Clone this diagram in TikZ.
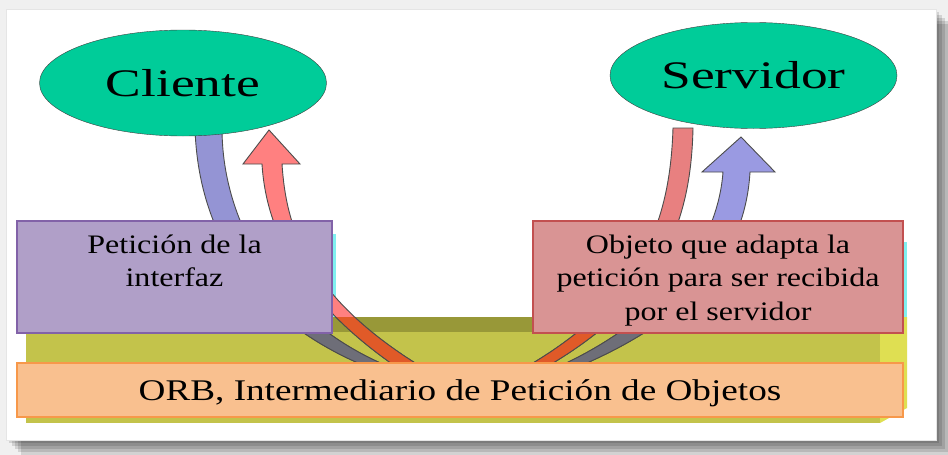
\documentclass[tikz,border=0pt]{standalone}
\usepackage{fontspec}
\setmainfont{Liberation Serif}[FakeStretch=1.2]
\newfontfamily\ellfont{Liberation Serif}[FakeStretch=1.37]
\newfontfamily\barfont{Liberation Serif}[FakeStretch=1.24]
\usetikzlibrary{shapes.geometric}
\definecolor{ellgreen}{HTML}{00CC99}
\definecolor{askblue}{HTML}{9494D4}
\definecolor{askred}{HTML}{FF8080}
\definecolor{srvred}{HTML}{E88080}
\definecolor{srvblue}{HTML}{9A9AE2}
\definecolor{bandgrey}{HTML}{6E6E78}
\definecolor{bandorange}{HTML}{E05A28}
\definecolor{boxlila}{HTML}{B09FC8}
\definecolor{lilaline}{HTML}{8262A8}
\definecolor{boxrosa}{HTML}{D99494}
\definecolor{rosaline}{HTML}{C25050}
\definecolor{orbfill}{HTML}{F9C08F}
\definecolor{orbline}{HTML}{F7984A}
\definecolor{slabfront}{HTML}{C3C34B}
\definecolor{slabtop}{HTML}{989838}
\definecolor{slabside}{HTML}{DFDF52}
\definecolor{cyanedge}{HTML}{80F0F0}
\begin{document}
\begin{tikzpicture}[x=1pt,y=-1pt,
	ell/.style={ellipse,draw=black!75,fill=ellgreen,inner sep=0pt,minimum width=287pt,minimum height=106pt,font=\ellfont\fontsize{39}{47}\selectfont},
	b/.style={draw,line width=1.6pt,inner sep=0pt,align=center,font=\fontsize{26.7}{33.5}\selectfont},
	band/.style={draw=black!70,line width=0.9pt,line join=miter}]
	\useasboundingbox (0,0) rectangle (948,455);
	% frame with its shadow
	\fill[black!6] (0,0) rectangle (948,455);
	\foreach \d in {3,6,9,12,15} \fill[black,opacity=0.12] (6+\d,9+\d) rectangle (936+\d,440+\d);
	\fill[white,draw=black!10] (6,9) rectangle (936,440);
	% olive slab
	\fill[slabfront] (26,332) rectangle (880,423);
	\fill[slabtop] (26,317) rectangle (880,332);
	\fill[slabside] (880,317) -- (907,317) -- (907,408) -- (880,423) -- cycle;
	\fill[cyanedge] (320,234) rectangle (336,317);
	\fill[cyanedge] (890,242) rectangle (907,317);
	% bands and arrows
	\coordinate (bt) at (269,130); \coordinate (dt) at (741,137);
	\newcommand{\bands}[4]{%
		\filldraw[band,fill=#1] (195,128) .. controls (198,230) and (250,320) .. (370,368) -- (385,365)
			.. controls (280,320) and (222,225) .. (222,128) -- cycle;
		\filldraw[band,fill=#2] (262,164) .. controls (266,230) and (300,300) .. (395,366) -- (420,366)
			.. controls (305,295) and (286,225) .. (282,164) -- (300,164) -- (bt) -- (243,164) -- cycle;
		\filldraw[band,fill=#3] (673,128) .. controls (670,225) and (640,300) .. (528,366) -- (548,366)
			.. controls (660,300) and (691,225) .. (693,128) -- cycle;
		\filldraw[band,fill=#4] (723,172) .. controls (718,240) and (670,315) .. (560,366) -- (580,366)
			.. controls (710,310) and (746,240) .. (750,172) -- (775,172) -- (dt) -- (702,172) -- cycle;}
	\bands{askblue}{askred}{srvred}{srvblue}
	\begin{scope}
		\clip (26,317.5) rectangle (907,425);
		\bands{bandgrey}{bandorange}{bandorange}{bandgrey}
	\end{scope}
	% ends
	\node[ell] (cli) at (183,83) {Cliente};
	\node[ell] (srv) at (753.5,75.5) {Servidor};
	\node[b,draw=lilaline,fill=boxlila,minimum width=315pt,minimum height=112pt] (pet) at (174.5,277) {\rule{0pt}{25pt}Petición de la\\interfaz\\\vphantom{p}};
	\node[b,draw=rosaline,fill=boxrosa,minimum width=370pt,minimum height=112pt] (obj) at (718,277) {\rule{0pt}{25pt}Objeto que adapta la\\petición para ser recibida\\por el servidor};
	\node[b,draw=orbline,fill=orbfill,minimum width=886pt,minimum height=54pt,font=\barfont\fontsize{30}{36}\selectfont] (orb) at (460,390) {\rule{0pt}{26.5pt}ORB, Intermediario de Petición de Objetos};
\end{tikzpicture}
\end{document}
